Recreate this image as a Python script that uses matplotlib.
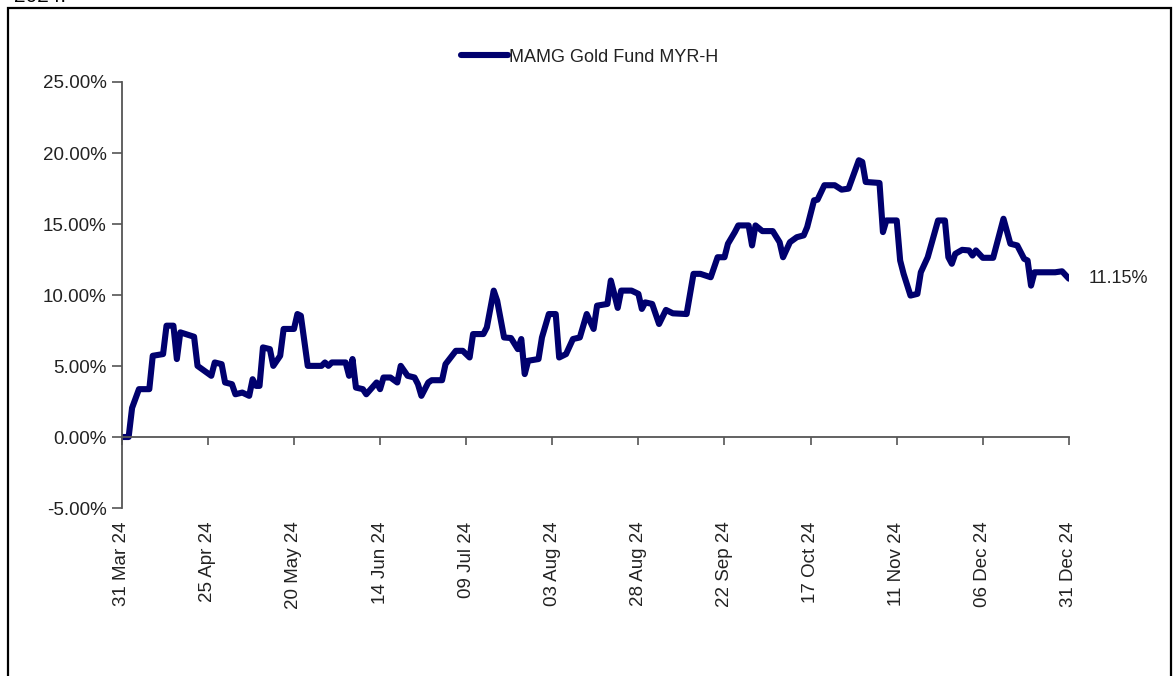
import numpy as np
import matplotlib
matplotlib.use('Agg')
import matplotlib.pyplot as plt
import matplotlib.dates as mdates
from matplotlib.patches import Rectangle

plt.rcParams['font.family'] = ['Liberation Sans', 'DejaVu Sans']

# days since 31 Mar 2024 and cumulative return (%)
day_offsets = [0, 2, 3, 5, 8, 9, 12, 13, 15, 16, 17, 21, 22, 26, 27, 29, 30, 32, 33, 35,
               37, 38, 39, 40, 41, 43, 44, 46, 47, 50, 51, 52, 54, 58, 59, 60, 61, 65, 66, 67,
               68, 70, 71, 74, 75, 76, 78, 80, 81, 83, 85, 86, 87, 89, 90, 93, 94, 97, 99, 101,
               102, 105, 106, 108, 109, 111, 113, 115, 116, 117, 118, 121, 122, 124, 126, 127, 129, 131, 133, 135,
               137, 138, 141, 142, 143, 144, 145, 148, 150, 151, 152, 154, 156, 158, 160, 164, 166, 168, 171, 173,
               175, 176, 178, 179, 182, 183, 184, 186, 189, 191, 192, 194, 196, 198, 199, 201, 202, 204, 207, 209,
               211, 214, 215, 216, 220, 221, 222, 225, 226, 227, 229, 231, 232, 234, 237, 239, 240, 241, 242, 244,
               246, 247, 248, 250, 253, 256, 258, 260, 262, 263, 264, 265, 271, 273, 275]
returns = [0.0, 0.0, 2.05, 3.37, 3.37, 5.72, 5.84, 7.84, 7.84, 5.49, 7.37, 7.06, 5.01, 4.31, 5.25, 5.13, 3.84, 3.72, 3.01, 3.13,
           2.90, 4.07, 3.60, 3.60, 6.31, 6.19, 5.01, 5.72, 7.61, 7.61, 8.66, 8.54, 5.01, 5.01, 5.25, 5.01, 5.25, 5.25, 4.31, 5.49,
           3.48, 3.37, 3.01, 3.84, 3.37, 4.19, 4.19, 3.84, 5.01, 4.31, 4.19, 3.72, 2.90, 3.84, 4.00, 4.00, 5.13, 6.07, 6.07, 5.60,
           7.25, 7.25, 7.72, 10.31, 9.60, 7.01, 6.97, 6.19, 6.90, 4.43, 5.37, 5.49, 7.01, 8.66, 8.66, 5.60, 5.84, 6.90, 7.01, 8.66,
           7.61, 9.25, 9.37, 11.02, 10.08, 9.09, 10.31, 10.31, 10.08, 9.02, 9.48, 9.37, 7.96, 8.95, 8.71, 8.66, 11.49, 11.49, 11.25, 12.66,
           12.66, 13.61, 14.43, 14.90, 14.90, 13.49, 14.90, 14.50, 14.50, 13.72, 12.66, 13.72, 14.07, 14.20, 14.78, 16.67, 16.71, 17.73, 17.73, 17.42,
           17.49, 19.49, 19.37, 17.96, 17.89, 14.43, 15.25, 15.25, 12.43, 11.49, 9.96, 10.08, 11.60, 12.66, 15.25, 15.25, 12.66, 12.20, 12.90, 13.18,
           13.14, 12.78, 13.14, 12.62, 12.62, 15.37, 13.61, 13.49, 12.55, 12.43, 10.66, 11.60, 11.60, 11.67, 11.15]

series_name = 'MAMG Gold Fund MYR-H'
last_label = '11.15%'
start_date = np.datetime64('2024-03-31')
tick_step_days = 25
y_ticks = [-5, 0, 5, 10, 15, 20, 25]

navy = '#00006e'
axis_grey = '#555555'
text_col = '#222222'

dates = start_date + np.array(day_offsets).astype('timedelta64[D]')
tick_dates = start_date + np.arange(0, 276, tick_step_days).astype('timedelta64[D]')

fig = plt.figure(figsize=(11.74, 6.76), dpi=100)
ax = fig.add_axes([0.1037, 0.2485, 0.8068, 0.6302])

ax.plot(dates, returns, color=navy, lw=4.4, solid_joinstyle='round',
        solid_capstyle='round', label=series_name)

ax.set_xlim(dates[0], dates[-1])
ax.set_ylim(-5, 25)
ax.set_yticks(y_ticks)
ax.set_yticklabels(['{:.2f}%'.format(v) for v in y_ticks])
ax.set_xticks(tick_dates)
ax.xaxis.set_major_formatter(mdates.DateFormatter('%d %b %y'))

for s in ['top', 'right']:
    ax.spines[s].set_visible(False)
ax.spines['bottom'].set_position(('data', 0))
ax.spines['bottom'].set_color(axis_grey)
ax.spines['left'].set_color(axis_grey)
ax.spines['bottom'].set_linewidth(1.3)
ax.spines['left'].set_linewidth(1.3)

ax.tick_params(axis='y', direction='out', length=7, width=1.2, color=axis_grey,
               labelsize=13.5, labelcolor=text_col, pad=4)
ax.tick_params(axis='x', direction='out', length=6, width=1.2, color=axis_grey,
               labelsize=13.5, labelcolor=text_col, pad=55, labelrotation=90)

ax.annotate(last_label, xy=(dates[-1], returns[-1]), xytext=(14, 0),
            textcoords='offset points', va='center', ha='left',
            fontsize=13, color=text_col)

ax.legend(loc='center', bbox_to_anchor=(590 / 1174, 1 - 57 / 676),
          bbox_transform=fig.transFigure, frameon=False, fontsize=13,
          handlelength=2.6, handletextpad=0.05, labelcolor=text_col)

# outer frame and cut-off header
fig.patches.append(Rectangle((8 / 1174, -0.05), 1163 / 1174, 1.05 - 8 / 676,
                             transform=fig.transFigure, fill=False,
                             edgecolor='black', lw=1.6))
fig.text(14 / 1174, 1 - 2 / 676, '2024.', fontsize=15, va='baseline', ha='left')

fig.savefig('out.png', dpi=100)
